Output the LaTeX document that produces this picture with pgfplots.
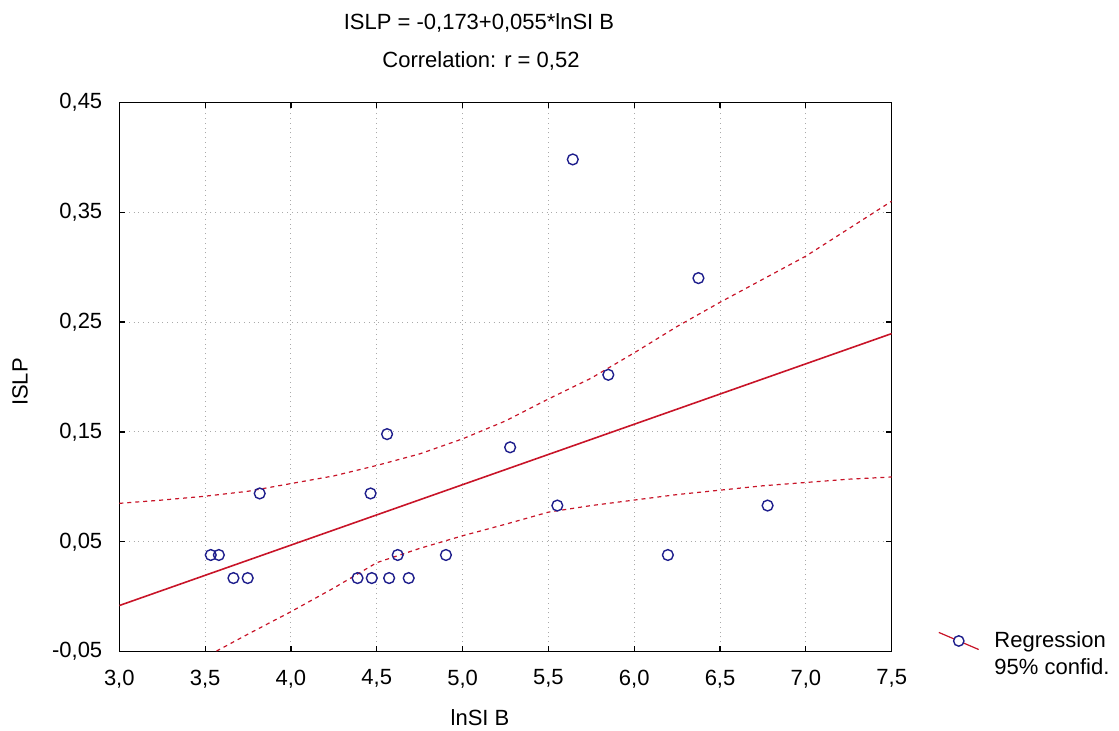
\documentclass[border=0pt]{standalone}
\usepackage{fontspec}
\setmainfont{Liberation Sans}
\usepackage{pgfplots}
\pgfplotsset{compat=1.18}
\definecolor{regred}{RGB}{200,20,40}
\definecolor{navy}{RGB}{30,30,140}
\definecolor{gridgray}{RGB}{170,170,170}
\begin{document}
\begin{tikzpicture}
\path[use as bounding box] (-59.65pt,-39.65pt) rectangle (499.85pt,325.85pt);
\begin{axis}[
  at={(0pt,0pt)}, anchor=south west,
  scale only axis, width=386.2pt, height=274.7pt,
  xmin=3, xmax=7.5, ymin=-0.05, ymax=0.45,
  xtick={3,3.5,4,4.5,5,5.5,6,6.5,7,7.5},
  ytick={-0.05,0.05,0.15,0.25,0.35,0.45},
  tick align=inside, major tick length=3pt,
  tick style={black, line width=0.6pt},
  axis line style={black, line width=0.75pt},
  grid=major, grid style={gridgray, dotted, line width=0.5pt},
  font=\fontsize{11}{13}\selectfont,
  ticklabel style={font=\fontsize{11}{13}\selectfont},
  /pgf/number format/assume math mode=true,
  x tick label style={/pgf/number format/.cd, use comma, fixed, fixed zerofill, precision=1, /tikz/.cd, yshift=-5.5pt},
  y tick label style={/pgf/number format/.cd, use comma, fixed, fixed zerofill, precision=2, /tikz/.cd, xshift=-5pt},
  legend style={draw=none, fill=none, at={(1.052,-0.005)}, anchor=west, font=\fontsize{11}{13}\selectfont, row sep=0pt},
  legend cell align=left,
]
% confidence band upper
\addplot[regred, line width=0.6pt, dash pattern=on 2pt off 2pt, forget plot] coordinates {
(3.00,0.0850) (3.25,0.0880) (3.50,0.0915) (3.75,0.0960) (4.00,0.1030) (4.25,0.1100)
(4.50,0.1195) (4.75,0.1300) (5.00,0.1437) (5.25,0.1600) (5.50,0.1800) (5.75,0.1990)
(6.00,0.2220) (6.25,0.2460) (6.50,0.2680) (6.75,0.2890) (7.00,0.3100) (7.25,0.3350) (7.50,0.3600)};
% confidence band lower
\addplot[regred, line width=0.6pt, dash pattern=on 2pt off 2pt, forget plot] coordinates {
(3.00,-0.1000) (3.25,-0.0770) (3.50,-0.0550) (3.75,-0.0340) (4.00,-0.0136) (4.25,0.0080)
(4.50,0.0310) (4.75,0.0440) (5.00,0.0555) (5.25,0.0660) (5.50,0.0770) (5.75,0.0830)
(6.00,0.0880) (6.25,0.0930) (6.50,0.0970) (6.75,0.1010) (7.00,0.1040) (7.25,0.1070) (7.50,0.1090)};
% regression line
\addplot[regred, line width=0.8pt, forget plot] coordinates {(3.0,-0.008) (7.5,0.2395)};
% data
\addplot[only marks, mark=o, mark size=2.7pt, mark options={navy, line width=0.7pt},
  legend image code/.code={
    \draw[regred, line width=0.6pt] (-0.1cm,0.15cm) -- (0.6cm,-0.15cm);
    \draw[navy, line width=0.7pt, fill=white] (0.25cm,0cm) circle (2.6pt);
    \path (0.8cm,0cm);
  }] coordinates {
(3.533,0.038) (3.580,0.038) (3.665,0.017) (3.748,0.017) (3.818,0.094)
(4.388,0.017) (4.464,0.094) (4.471,0.017) (4.560,0.148) (4.572,0.017)
(4.622,0.038) (4.686,0.017) (4.903,0.038) (5.277,0.136) (5.552,0.083)
(5.642,0.398) (5.849,0.202) (6.196,0.038) (6.374,0.290) (6.777,0.083)};
\addlegendentry{Regression}
\addlegendimage{empty legend}
\addlegendentry{95\% confid.}
\end{axis}
\node[font=\fontsize{11}{13}\selectfont] at (179.85pt,314.35pt) {ISLP = -0,173+0,055*lnSI B};
\node[font=\fontsize{11}{13}\selectfont] at (180.85pt,295.35pt) {Correlation: r = 0,52};
\node[font=\fontsize{11}{13}\selectfont] at (180.35pt,-33.15pt) {lnSI B};
\node[font=\fontsize{11}{13}\selectfont, rotate=90] at (-49.65pt,134.85pt) {ISLP};
\end{tikzpicture}
\end{document}
